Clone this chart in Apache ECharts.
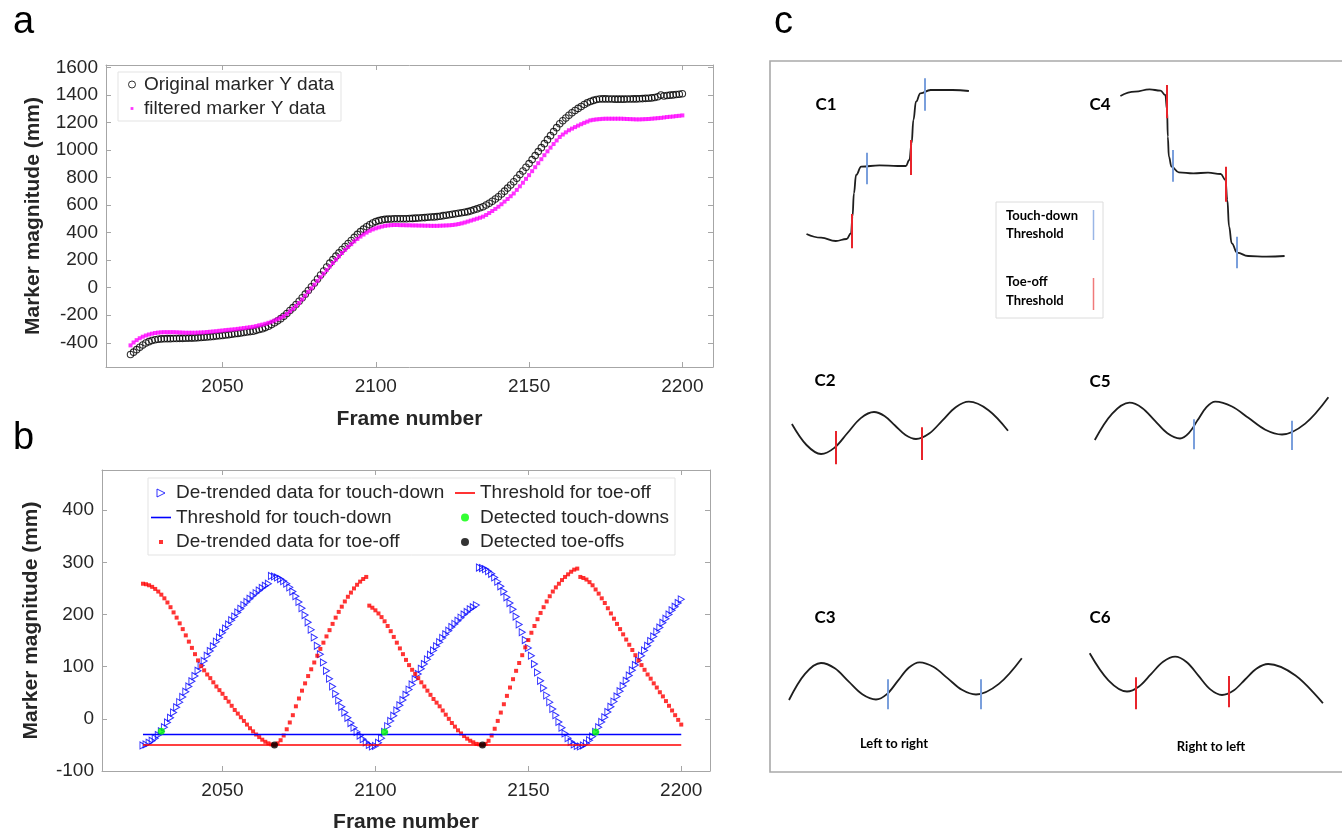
<!DOCTYPE html>
<html>
<head>
<meta charset="utf-8">
<script src="https://cdn.jsdelivr.net/npm/echarts@6.0.0/dist/echarts.min.js"></script>
<style>
html,body{margin:0;padding:0;background:#fff;}
#chart{width:1342px;height:834px;}
</style>
</head>
<body>
<div id="chart"></div>
<script>
// ---------- Panel a data (frame 2020 .. 2200, one value per frame) ----------
const frameStartA = 2020;
const aOriginal = [
-485,-468,-450,-433,-416,-402,-392,-384,-378,-374,
-372,-371,-370,-370,-369,-369,-368,-368,-367,-366,
-366,-365,-363,-362,-360,-358,-356,-354,-351,-349,
-347,-344,-341,-338,-335,-332,-329,-326,-322,-319,
-316,-310,-304,-298,-290,-280,-268,-255,-241,-225,
-207,-187,-166,-145,-122,-99,-73,-47,-20,7,
34,63,92,121,150,178,204,229,253,277,
299,321,343,365,387,407,425,442,457,470,
480,487,492,496,498,499,500,500,500,501,
501,502,503,505,506,508,509,511,513,514,
516,519,523,526,530,533,537,541,544,548,
552,558,565,572,580,588,600,613,628,644,
660,680,701,723,746,769,795,821,847,874,
901,930,959,988,1017,1046,1075,1104,1133,1162,
1190,1212,1232,1252,1270,1287,1302,1316,1330,1342,
1352,1360,1366,1370,1371,1371,1370,1370,1369,1369,
1369,1369,1370,1370,1371,1371,1372,1373,1375,1376,
1378,1381,1386,1399,1392,1395,1398,1400,1403,1405,
1408];
const aFiltered = [
-419,-398,-381,-367,-356,-347,-340,-334,-329,-326,
-324,-323,-323,-323,-323,-324,-325,-326,-327,-327,
-327,-327,-326,-325,-324,-322,-320,-318,-316,-313,
-311,-308,-306,-304,-302,-299,-296,-293,-290,-287,
-284,-279,-273,-268,-262,-255,-247,-238,-229,-218,
-207,-190,-172,-153,-132,-111,-85,-58,-31,-4,
22,49,76,102,128,154,179,204,228,252,
275,296,316,336,354,371,386,400,413,423,
431,438,444,449,452,454,455,455,454,454,
453,453,452,452,451,451,450,450,449,449,
449,450,451,452,453,455,458,462,467,473,
480,487,494,501,508,516,528,542,557,572,
588,606,625,644,664,684,710,736,762,790,
817,846,875,904,933,962,990,1017,1043,1069,
1094,1112,1128,1143,1155,1166,1177,1187,1197,1206,
1215,1219,1222,1224,1226,1227,1227,1227,1227,1227,
1227,1226,1225,1224,1223,1222,1222,1223,1224,1225,
1227,1229,1231,1233,1236,1239,1241,1243,1246,1248,
1251];
const aXTicks = [2050, 2100, 2150, 2200];
const aYTicks = [-400, -200, 0, 200, 400, 600, 800, 1000, 1200, 1400, 1600];

// ---------- Panel b data (frame 2024 .. 2200) ----------
const frameStartB = 2024;
const bTouchDown = [
-51,-49,-46,-42,-37,-31,-24,-16,-7,2,
12,22,32,42,52,62,72,82,92,102,
111,121,130,139,148,156,165,173,181,189,
196,204,211,218,224,230,236,241,246,251,
255,259,
274,273,271,268,264,259,252,244,235,224,
212,199,185,171,156,140,124,108,92,77,
62,48,35,23,12,2,-8,-17,-25,-32,
-39,-45,-50,-53,-52,-46,-37,-25,-14,-4,
6,16,26,36,46,56,66,76,86,96,
105,114,123,131,139,147,155,162,169,176,
182,188,194,200,205,210,214,218,
290,289,287,283,278,271,263,254,244,233,
222,210,196,181,166,151,136,121,105,89,
73,59,45,32,19,7,-6,-17,-28,-37,
-44,-49,-52,-53,-51,-47,-41,-34,-25,-16,
-6,3,13,23,33,43,53,63,73,83,
93,103,112,121,131,140,149,158,167,175,
184,192,200,208,215,222,229];
const bToeOff = [
259,258,256,253,249,244,238,231,223,214,
204,194,183,172,160,148,136,124,112,101,
93,85,78,70,62,55,48,40,33,25,
17,10,3,-4,-11,-18,-24,-30,-35,-40,
-44,-47,-49,-50,-47,-41,-32,-20,-7,7,
24,39,54,68,82,95,108,121,134,146,
158,170,182,194,205,215,225,234,242,250,
257,263,268,272,
217,213,208,202,195,187,178,168,157,146,
135,124,113,103,94,86,78,70,62,54,
46,38,31,24,16,8,0,-8,-15,-22,
-28,-33,-38,-42,-45,-48,-49,-50,-48,-42,
-32,-19,-4,12,28,44,60,76,92,107,
122,137,151,165,178,191,203,214,225,235,
244,252,259,266,272,277,282,286,288,
272,270,267,262,256,248,240,231,222,212,
202,192,182,172,162,152,142,132,122,112,
103,94,85,77,68,60,51,43,34,25,
16,7,-2,-11];
const thresholdTouchDown = -30;
const thresholdToeOff = -50;
const thresholdFrames = [2024, 2200];
const detectedTouchDowns = [[2030, -24], [2103, -25], [2172, -25]];
const detectedToeOffs = [[2067, -50], [2135, -50]];
const bXTicks = [2050, 2100, 2150, 2200];
const bYTicks = [-100, 0, 100, 200, 300, 400];

// ---------- Panel c sketches (sketch units inside the c box) ----------
const c1Curve = [[36.5,173],[51.1,176.7],[65.7,180],[76.6,178],[81,172.3],[82.5,155.7],[83.9,132.3],[86.1,114],[91.2,105.7],[109.5,104.3],[127.7,105],[135.8,105],[139.4,99],[141.6,82.3],[143.4,59],[146,40.7],[150.4,32.3],[160.6,29],[182.5,29],[198.9,30]];
const c4Curve = [[350.4,35],[365,30.7],[379.6,28.3],[390.5,29.7],[395.3,34],[397.1,49],[397.8,75.7],[398.9,95.7],[401.5,105.7],[408.8,111.3],[423.4,112.3],[438,111.7],[450.7,113],[455.5,119],[457.3,139],[459.1,165.7],[461.7,182.3],[467.2,191.7],[478.1,195],[496.4,195.7],[514.6,195]];
const c2Curve = [[21.9,363],[36.5,384],[51.1,393],[64.3,386.9],[77.5,372],[90.8,357.1],[104,351],[114.5,355],[125,364.5],[135.5,374],[146,378],[159.2,372.5],[172.5,359.4],[185.7,346.2],[198.9,340.7],[218.5,349.2],[238,369.7]];
const c5Curve = [[324.8,379],[342.2,352.6],[359.5,341.7],[372.1,346.9],[384.8,359.6],[397.4,372.3],[410,377.5],[418.8,372.1],[427.7,359.1],[436.5,346.1],[445.3,340.7],[462,345.5],[478.7,357.1],[495.3,368.7],[512,373.5],[535.2,362.6],[558.4,336.3]];
const c3Curve = [[19,639],[35,612.8],[51,602],[64.8,607.3],[78.5,620.3],[92.3,633.2],[106,638.5],[116.9,633.1],[127.8,619.9],[138.7,606.7],[149.6,601.3],[163.7,606],[177.8,617.4],[191.9,628.8],[206,633.5],[228.9,622.9],[251.8,597.3]];
const c6Curve = [[319.7,592.3],[338.4,619.3],[357,630.5],[369,625.4],[381,613.1],[393.1,600.8],[405.1,595.7],[416.8,601.3],[428.6,614.9],[440.3,628.4],[452,634],[463.6,629.5],[475.1,618.5],[486.7,607.5],[498.2,603],[525.5,614.5],[552.9,642.3]];
// [x, yTop, yBottom]
const cToeOffMarks = [[81.8,153,187.3],[140.5,79,114],[396.7,24,57.3],[456.2,105.7,140.7],[65.7,370,403.3],[151.8,366.3,399],[366.1,616.3,648.3],[458.8,615,646.3]];
const cTouchDownMarks = [[97.1,91.7,123.3],[154.4,17.3,49.7],[402.9,89,120.7],[467.2,175.7,207.3],[424.1,358.3,388.3],[521.9,359.7,389],[117.5,618.3,648.3],[211,618.3,648.3]];

// ---------- styling ----------
const FONT = '"Liberation Sans", Arial, Helvetica, sans-serif';
const SKF = 'Lato, "Open Sans", sans-serif';
const AX = '#a6a6a6';
const TXT = '#262626';
const BLUE = '#0000ff', RED = '#ff0000', MAG = '#ff00ff', GREEN = '#00ff00';
const SK_BLUE = '#7a9fdc', SK_RED = '#e8242b';
const plain = v => String(v);

function bottomAxis(grid, min, max, ticks, name, gap) {
  return {type:'value', gridIndex:grid, min:min, max:max, position:'bottom',
    axisLine:{show:true, onZero:false, lineStyle:{color:AX, width:1}},
    axisTick:{show:true, inside:true, length:5, customValues:ticks, lineStyle:{color:AX}},
    axisLabel:{show:true, customValues:ticks, formatter:plain, fontSize:19, fontFamily:FONT, color:TXT, margin:10},
    splitLine:{show:false},
    name:name, nameLocation:'middle', nameGap:gap,
    nameTextStyle:{fontSize:21, fontWeight:'bold', fontFamily:FONT, color:TXT}};
}
function topAxis(grid, min, max, ticks) {
  return {type:'value', gridIndex:grid, min:min, max:max, position:'top',
    axisLine:{show:true, onZero:false, lineStyle:{color:AX, width:1}},
    axisTick:{show:true, inside:true, length:5, customValues:ticks, lineStyle:{color:AX}},
    axisLabel:{show:false}, splitLine:{show:false}};
}
function leftAxis(grid, min, max, ticks, name, gap) {
  return {type:'value', gridIndex:grid, min:min, max:max, position:'left',
    axisLine:{show:true, onZero:false, lineStyle:{color:AX, width:1}},
    axisTick:{show:true, inside:true, length:5, customValues:ticks, lineStyle:{color:AX}},
    axisLabel:{show:true, customValues:ticks, formatter:plain, fontSize:19, fontFamily:FONT, color:TXT, margin:8},
    splitLine:{show:false},
    name:name, nameLocation:'middle', nameGap:gap,
    nameTextStyle:{fontSize:21, fontWeight:'bold', fontFamily:FONT, color:TXT}};
}
function rightAxis(grid, min, max, ticks) {
  return {type:'value', gridIndex:grid, min:min, max:max, position:'right',
    axisLine:{show:true, onZero:false, lineStyle:{color:AX, width:1}},
    axisTick:{show:true, inside:true, length:5, customValues:ticks, lineStyle:{color:AX}},
    axisLabel:{show:false}, splitLine:{show:false}};
}

const pairs = (start, arr) => arr.map((v, i) => [start + i, v]);

const sketchStep = (data) => ({
  type:'line', xAxisIndex:4, yAxisIndex:4, data:data, smooth:0.45, smoothMonotone:'x',
  symbol:'none', silent:true, lineStyle:{color:'#1e1e1e', width:1.8}, z:3
});
const sketchWave = (data) => ({
  type:'line', xAxisIndex:4, yAxisIndex:4, data:data, smooth:0.35,
  symbol:'none', silent:true, lineStyle:{color:'#1e1e1e', width:1.8}, z:3
});
const markLines = (marks, color) => ({
  type:'lines', coordinateSystem:'cartesian2d', xAxisIndex:4, yAxisIndex:4, silent:true,
  data: marks.map(m => ({coords:[[m[0], m[1]], [m[0], m[2]]]})),
  lineStyle:{color:color, width:2, opacity:1}, z:4
});

const chart = echarts.init(document.getElementById('chart'), null, {renderer:'canvas'});

const legendText = {fontSize:19, fontFamily:FONT, color:TXT};
const LINE_ICON = 'path://M0,0h20v1.6h-20z';

const option = {
  animation:false,
  backgroundColor:'#ffffff',
  grid:[
    {left:106, top:65, width:607, height:302},
    {left:102, top:470, width:608, height:303},
    {left:770, top:61, width:572, height:711}
  ],
  xAxis:[
    bottomAxis(0, 2012, 2210, aXTicks, 'Frame number', 42),
    topAxis(0, 2012, 2210, aXTicks),
    bottomAxis(1, 2010.6, 2209.4, bXTicks, 'Frame number', 41),
    topAxis(1, 2010.6, 2209.4, bXTicks),
    {type:'value', gridIndex:2, min:0, max:572, show:false}
  ],
  yAxis:[
    leftAxis(0, -576, 1617, aYTicks, 'Marker magnitude (mm)', 62),
    rightAxis(0, -576, 1617, aYTicks),
    leftAxis(1, -100, 477, bYTicks, 'Marker magnitude (mm)', 60),
    rightAxis(1, -100, 477, bYTicks),
    {type:'value', gridIndex:2, min:0, max:711, inverse:true, show:false}
  ],
  legend:[
    {orient:'vertical', left:128, top:75, padding:0, itemGap:5, itemWidth:14, itemHeight:7,
     symbolKeepAspect:true, textStyle:legendText, selectedMode:false,
     data:[
       {name:'Original marker Y data', icon:'circle', itemStyle:{color:'rgba(0,0,0,0)', borderColor:'#000', borderWidth:1}},
       {name:'filtered marker Y data', icon:'path://M0,0h0M10,10h0M3,3h4v4h-4z', itemStyle:{color:MAG, borderWidth:0}}
     ]},
    {orient:'vertical', left:151, top:483.5, padding:0, itemGap:5.5, itemWidth:20, itemHeight:8,
     symbolKeepAspect:true, textStyle:legendText, selectedMode:false,
     data:[
       {name:'De-trended data for touch-down', icon:'path://M0,0L10,5L0,10Z', itemStyle:{color:'rgba(0,0,0,0)', borderColor:BLUE, borderWidth:1}},
       {name:'Threshold for touch-down', icon:LINE_ICON, itemStyle:{color:BLUE, borderWidth:0}},
       {name:'De-trended data for toe-off', icon:'path://M0,0h0M10,10h0M2.5,2.5h5v5h-5z', itemStyle:{color:RED, borderWidth:0}}
     ]},
    {orient:'vertical', left:455, top:483.5, padding:0, itemGap:5.5, itemWidth:20, itemHeight:8,
     symbolKeepAspect:true, textStyle:legendText, selectedMode:false,
     data:[
       {name:'Threshold for toe-off', icon:LINE_ICON, itemStyle:{color:RED, borderWidth:0}},
       {name:'Detected touch-downs', icon:'circle', itemStyle:{color:GREEN, borderWidth:0}},
       {name:'Detected toe-offs', icon:'circle', itemStyle:{color:'#000', borderWidth:0}}
     ]}
  ],
  series:[
    {name:'Original marker Y data', type:'scatter', xAxisIndex:0, yAxisIndex:0,
     data:pairs(frameStartA, aOriginal), symbol:'circle', symbolSize:6.5,
     itemStyle:{color:'rgba(0,0,0,0)', borderColor:'#000', borderWidth:1.1}, silent:true},
    {name:'filtered marker Y data', type:'scatter', xAxisIndex:0, yAxisIndex:0,
     data:pairs(frameStartA, aFiltered), symbol:'rect', symbolSize:4,
     itemStyle:{color:MAG}, silent:true},

    {name:'De-trended data for touch-down', type:'scatter', xAxisIndex:2, yAxisIndex:2,
     data:pairs(frameStartB, bTouchDown), symbol:'path://M0,0L10,5L0,10Z', symbolSize:[6,7],
     itemStyle:{color:'rgba(0,0,0,0)', borderColor:BLUE, borderWidth:1}, silent:true},
    {name:'Threshold for touch-down', type:'line', xAxisIndex:2, yAxisIndex:2,
     data:thresholdFrames.map(f => [f, thresholdTouchDown]), symbol:'none',
     lineStyle:{color:BLUE, width:1.5}, itemStyle:{color:BLUE}, silent:true},
    {name:'De-trended data for toe-off', type:'scatter', xAxisIndex:2, yAxisIndex:2,
     data:pairs(frameStartB, bToeOff), symbol:'rect', symbolSize:4,
     itemStyle:{color:RED}, silent:true},
    {name:'Threshold for toe-off', type:'line', xAxisIndex:2, yAxisIndex:2,
     data:thresholdFrames.map(f => [f, thresholdToeOff]), symbol:'none',
     lineStyle:{color:RED, width:1.5}, itemStyle:{color:RED}, silent:true},
    {name:'Detected touch-downs', type:'scatter', xAxisIndex:2, yAxisIndex:2,
     data:detectedTouchDowns, symbol:'circle', symbolSize:7, itemStyle:{color:GREEN}, silent:true, z:5},
    {name:'Detected toe-offs', type:'scatter', xAxisIndex:2, yAxisIndex:2,
     data:detectedToeOffs, symbol:'circle', symbolSize:7, itemStyle:{color:'#000'}, silent:true, z:5},

    sketchStep(c1Curve), sketchStep(c4Curve), sketchWave(c2Curve),
    sketchWave(c5Curve), sketchWave(c3Curve), sketchWave(c6Curve),
    markLines(cToeOffMarks, SK_RED),
    markLines(cTouchDownMarks, SK_BLUE)
  ],
  graphic:[
    // panel letters
    {type:'text', x:13, y:42, style:{text:'a', font:'38px ' + FONT, fill:'#000', align:'left', verticalAlign:'bottom'}},
    {type:'text', x:13, y:458, style:{text:'b', font:'38px ' + FONT, fill:'#000', align:'left', verticalAlign:'bottom'}},
    {type:'text', x:774, y:42, style:{text:'c', font:'38px ' + FONT, fill:'#000', align:'left', verticalAlign:'bottom'}},
    // legend boxes for a and b
    {type:'rect', z:1, shape:{x:118, y:72, width:223, height:49}, style:{fill:'#fff', stroke:'#e3e3e3', lineWidth:1}},
    {type:'rect', z:1, shape:{x:148, y:478, width:527, height:77}, style:{fill:'#fff', stroke:'#e3e3e3', lineWidth:1}},
    // panel c frame
    {type:'rect', z:1, shape:{x:770, y:61, width:580, height:711}, style:{fill:'none', stroke:'#a9a9a9', lineWidth:1.6}},
    // sketch labels
    {type:'text', x:826, y:105, style:{text:'C1', font:'bold 17px ' + SKF, fill:'#000', align:'center', verticalAlign:'middle'}},
    {type:'text', x:1100, y:105, style:{text:'C4', font:'bold 17px ' + SKF, fill:'#000', align:'center', verticalAlign:'middle'}},
    {type:'text', x:825, y:381, style:{text:'C2', font:'bold 17px ' + SKF, fill:'#000', align:'center', verticalAlign:'middle'}},
    {type:'text', x:1100, y:382, style:{text:'C5', font:'bold 17px ' + SKF, fill:'#000', align:'center', verticalAlign:'middle'}},
    {type:'text', x:825, y:618, style:{text:'C3', font:'bold 17px ' + SKF, fill:'#000', align:'center', verticalAlign:'middle'}},
    {type:'text', x:1100, y:618, style:{text:'C6', font:'bold 17px ' + SKF, fill:'#000', align:'center', verticalAlign:'middle'}},
    {type:'text', x:894, y:744, style:{text:'Left to right', font:'bold 13px ' + SKF, fill:'#000', align:'center', verticalAlign:'middle'}},
    {type:'text', x:1211, y:747, style:{text:'Right to left', font:'bold 13px ' + SKF, fill:'#000', align:'center', verticalAlign:'middle'}},
    // panel c legend
    {type:'rect', z:2, shape:{x:996, y:202, width:107, height:116}, style:{fill:'#fff', stroke:'#dcdcdc', lineWidth:1}},
    {type:'text', z:3, x:1006, y:216, style:{text:'Touch-down', font:'bold 13px ' + SKF, fill:'#000', align:'left', verticalAlign:'middle'}},
    {type:'text', z:3, x:1006, y:234, style:{text:'Threshold', font:'bold 13px ' + SKF, fill:'#000', align:'left', verticalAlign:'middle'}},
    {type:'text', z:3, x:1006, y:282, style:{text:'Toe-off', font:'bold 13px ' + SKF, fill:'#000', align:'left', verticalAlign:'middle'}},
    {type:'text', z:3, x:1006, y:301, style:{text:'Threshold', font:'bold 13px ' + SKF, fill:'#000', align:'left', verticalAlign:'middle'}},
    {type:'line', z:3, shape:{x1:1093.5, y1:210, x2:1093.5, y2:240}, style:{stroke:'#9ab6e6', lineWidth:1.5}},
    {type:'line', z:3, shape:{x1:1093.5, y1:278, x2:1093.5, y2:310}, style:{stroke:'#f07a7a', lineWidth:1.5}}
  ]
};
chart.setOption(option);
</script>
</body>
</html>
